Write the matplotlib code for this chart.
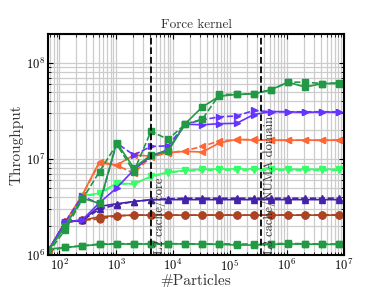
import matplotlib
matplotlib.use('Agg')
import matplotlib.pyplot as plt
import numpy as np

plt.rcParams['font.family'] = 'serif'
plt.rcParams['font.serif'] = ['cmr10', 'DejaVu Serif']
plt.rcParams['mathtext.fontset'] = 'cm'
plt.rcParams['axes.formatter.use_mathtext'] = True

# number of particles: 2^6 .. 2^23
N = [2 ** k for k in range(6, 24)]

# top green (squares)
g_top_s = [1.1e6, 2.0e6, 3.9e6, 3.45e6, 1.48e7, 8.05e6, 1.1e7, 1.2e7, 2.33e7, 3.48e7,
           4.5e7, 4.7e7, 4.75e7, 5.27e7, 6.3e7, 5.6e7, 6.1e7, 6.1e7]
g_top_d = [1.05e6, 1.84e6, 3.8e6, 7.4e6, 1.42e7, 7.4e6, 1.94e7, 1.6e7, 2.3e7, 2.6e7,
           4.7e7, 4.7e7, 4.8e7, 5.2e7, 6.3e7, 6.3e7, 6.1e7, 6.2e7]
# blue-violet (right triangles)
b_s = [1.1e6, 2.2e6, 2.33e6, 3.5e6, 5.0e6, 7.7e6, 1.07e7, 1.25e7, 2.3e7, 2.27e7,
       2.33e7, 2.35e7, 2.9e7, 3.12e7, 3.1e7, 3.05e7, 3.1e7, 3.05e7]
b_d = [1.1e6, 2.2e6, 4.1e6, 3.4e6, 1.46e7, 1.1e7, 1.35e7, 1.37e7, 2.3e7, 2.55e7,
       2.75e7, 2.8e7, 3.2e7, 3.1e7, 3.1e7, 3.1e7, 3.1e7, 3.1e7]
# orange (left triangles)
o_s = [1.1e6, 2.2e6, 4.25e6, 9.4e6, 8.6e6, 1.1e7, 1.07e7, 1.16e7, 1.2e7, 1.18e7,
       1.47e7, 1.6e7, 1.57e7, 1.57e7, 1.57e7, 1.57e7, 1.57e7, 1.57e7]
o_d = [1.1e6, 2.2e6, 4.2e6, 9.1e6, 8.6e6, 7.1e6, 1.05e7, 1.16e7, 1.22e7, 1.35e7,
       1.55e7, 1.58e7, 1.6e7, 1.57e7, 1.56e7, 1.57e7, 1.56e7, 1.57e7]
# light green (down triangles)
lg_s = [1.1e6, 2.1e6, 4.15e6, 4.4e6, 5.6e6, 5.5e6, 6.6e6, 7.3e6, 7.6e6, 7.8e6,
        7.85e6, 7.85e6, 7.85e6, 7.85e6, 7.8e6, 7.8e6, 7.8e6, 7.8e6]
lg_d = [1.1e6, 2.1e6, 4.1e6, 4.3e6, 5.5e6, 5.5e6, 6.5e6, 7.2e6, 7.5e6, 7.6e6,
        7.65e6, 7.6e6, 7.6e6, 7.6e6, 7.6e6, 7.6e6, 7.6e6, 7.6e6]
# indigo (up triangles)
i_s = [1.1e6, 2.2e6, 2.3e6, 3.2e6, 3.42e6, 3.6e6, 3.77e6, 3.77e6, 3.77e6, 3.77e6,
       3.77e6, 3.77e6, 3.77e6, 3.77e6, 3.77e6, 3.77e6, 3.77e6, 3.77e6]
i_d = [1.1e6, 2.2e6, 2.3e6, 3.0e6, 3.34e6, 3.6e6, 3.75e6, 3.85e6, 3.9e6, 3.9e6,
       3.9e6, 3.9e6, 3.9e6, 3.9e6, 3.9e6, 3.9e6, 3.9e6, 3.9e6]
# brown (circles)
br_s = [1.1e6, 2.2e6, 2.3e6, 2.5e6, 2.57e6, 2.6e6, 2.6e6, 2.6e6, 2.6e6, 2.6e6,
        2.6e6, 2.6e6, 2.6e6, 2.6e6, 2.6e6, 2.6e6, 2.6e6, 2.6e6]
br_d = [1.1e6, 2.2e6, 2.3e6, 2.37e6, 2.55e6, 2.6e6, 2.62e6, 2.6e6, 2.6e6, 2.6e6,
        2.62e6, 2.6e6, 2.6e6, 2.6e6, 2.62e6, 2.6e6, 2.62e6, 2.62e6]
# bottom green (squares)
g_bot_s = [1.15e6, 1.2e6, 1.24e6, 1.29e6, 1.3e6, 1.3e6, 1.3e6, 1.31e6, 1.3e6, 1.3e6,
           1.29e6, 1.27e6, 1.27e6, 1.29e6, 1.3e6, 1.3e6, 1.29e6, 1.29e6]
g_bot_d = [1.1e6, 1.2e6, 1.25e6, 1.3e6, 1.31e6, 1.31e6, 1.31e6, 1.31e6, 1.31e6, 1.3e6,
           1.31e6, 1.3e6, 1.3e6, 1.31e6, 1.32e6, 1.31e6, 1.3e6, 1.3e6]

l2_cache = 4096
l3_cache = 3.5e5

series = [
    (g_bot_s, g_bot_d, '#229944', 's'),
    (br_s, br_d, '#aa4422', 'o'),
    (i_s, i_d, '#4422aa', '^'),
    (lg_s, lg_d, '#33ff66', 'v'),
    (o_s, o_d, '#ff6633', '<'),
    (b_s, b_d, '#6633ff', '>'),
    (g_top_s, g_top_d, '#229944', 's'),
]

fig = plt.figure(figsize=(3.82, 2.87), dpi=100)
ax = fig.add_axes([0.126, 0.1115, 0.774, 0.77])

for ys, yd, c, m in series:
    ax.plot(N, yd, color=c, marker=m, ls='--', lw=1.2, ms=5)
    ax.plot(N, ys, color=c, marker=m, ls='-', lw=1.2, ms=5)

ax.axvline(l2_cache, color='k', ls='--', lw=1.3)
ax.axvline(l3_cache, color='k', ls='--', lw=1.3)
ax.text(l2_cache * 1.07, 1.03e6, 'L2 cache/core', rotation=90, fontsize=9,
        va='bottom', ha='left', color='#333333')
ax.text(l3_cache * 1.07, 1.03e6, 'L3 cache/NUMA domain', rotation=90, fontsize=9,
        va='bottom', ha='left', color='#333333')

ax.set_xscale('log')
ax.set_yscale('log')
ax.set_xlim(64, 1e7)
ax.set_ylim(1e6, 2e8)
ax.grid(True, which='both', color='#cccccc', lw=0.9)
ax.set_axisbelow(True)
ax.tick_params(which='both', direction='in', top=True, right=True, labelsize=9, pad=2)
for s in ax.spines.values():
    s.set_linewidth(1.5)

ax.set_title('Force kernel', fontsize=9.5, color='#333333', pad=4)
ax.set_xlabel('#Particles', fontsize=11, color='#333333', labelpad=0)
ax.set_ylabel('Throughput', fontsize=11, color='#333333', labelpad=2)

fig.savefig('out.png', dpi=100)
